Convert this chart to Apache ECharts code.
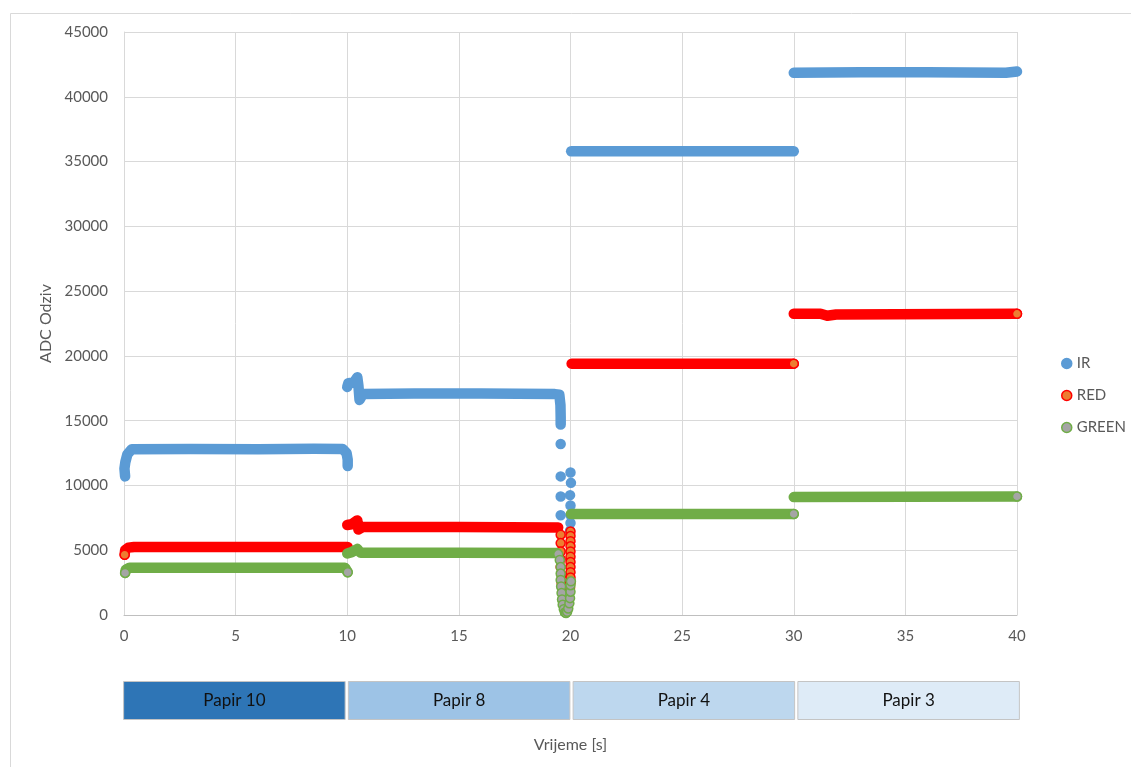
<!DOCTYPE html>
<html><head><meta charset="utf-8">
<script src="https://cdn.jsdelivr.net/npm/echarts@6/dist/echarts.min.js"></script>
<style>html,body{margin:0;padding:0;background:#fff}#c{width:1131px;height:767px}</style>
</head><body><div id="c"></div>
<script>
// ---------- DATA ----------
// Dense, flat runs of each channel (null separates the runs)
const irRuns = [
  [0.05,10700],[0.02,11300],[0.06,11800],[0.15,12400],[0.35,12800],[3,12820],[6,12800],[8.5,12830],[9.8,12810],[9.97,12500],[10.02,12000],[10.02,11500],
  null,
  [10.0,17600],[10.05,17900],[10.3,17950],[10.45,18350],[10.5,17700],[10.55,16600],[10.7,17050],[13,17100],[16,17100],[19.3,17050],[19.5,17000],[19.55,16200],[19.56,15300],[19.56,14700],
  null,
  [20.03,35800],[25,35800],[30,35800],
  null,
  [30,41850],[33,41900],[36,41900],[39.5,41850],[40,41950]
];
const redRuns = [
  [0.03,4650],[0.05,5000],[0.2,5200],[0.45,5250],[5,5250],[9.95,5250],[10.02,5250],
  null,
  [10.0,6950],[10.2,7000],[10.45,7300],[10.5,6600],[10.7,6800],[15,6800],[19.45,6750],
  null,
  [20.05,19400],[30,19400],
  null,
  [30,23250],[31.2,23250],[31.5,23100],[31.9,23200],[40,23250]
];
const greenRuns = [
  [0.05,3250],[0.08,3500],[0.25,3650],[5,3650],[9.9,3650],[10.02,3300],
  null,
  [10.0,4750],[10.2,4850],[10.45,5100],[10.6,4800],[15,4800],[19.38,4780],
  null,
  [20.02,7800],[30,7800],
  null,
  [30,9100],[40,9150]
];
// Individually visible samples (transitions and run ends)
const irPoints = [
  [19.56,13200],[19.56,10700],[19.56,9150],[19.56,7700],
  [20.0,11000],[20.02,10200],[19.98,9250],[20.0,8450],[20.0,7700],[20.0,7100],[19.98,6500]
];
const redPoints = [
  [0.03,4650],
  [19.56,6200],[19.56,5550],[19.56,4900],[19.56,4300],[19.56,3700],[19.6,3100],[19.6,2500],[19.65,1900],
  [20.0,6450],[20.0,6100],[20.0,5700],[20.0,5300],[20.0,4900],[20.0,4500],[20.0,4100],[20.0,3700],[20.0,3300],[20.0,2900],[20.0,2500],[19.98,2100],
  [30,19400],[40,23250]
];
const greenPoints = [
  [0.05,3250],[10.02,3300],
  [19.45,4700],[19.52,4250],[19.56,3700],[19.56,3200],[19.56,2700],[19.58,2200],[19.6,1700],[19.62,1200],[19.65,800],[19.7,450],[19.75,200],[19.8,150],[19.85,250],[19.9,500],[19.95,900],[19.98,1300],[20.0,1800],[20.0,2300],[20.02,2600],
  [30,7800],[40,9150]
];
const seriesNames = ['IR','RED','GREEN'];
const bandLabels = ['Papir 10','Papir 8','Papir 4','Papir 3'];
const bandValues = [1,1,1,1];

// ---------- STYLE ----------
const FONT = 'Lato, "Open Sans", sans-serif';
const fills   = {IR:'#5B9BD5', RED:'#ED7D31', GREEN:'#A5A5A5'};
const strokes = {IR:'#5B9BD5', RED:'#FF0000', GREEN:'#70AD47'};
const bandColors = ['#2E75B6','#9DC3E6','#BDD7EE','#DEEBF7'];

function splitRuns(pts){
  const segs=[[]];
  pts.forEach(p=>{ if(p===null) segs.push([]); else segs[segs.length-1].push(p); });
  return segs.filter(s=>s.length);
}

const runs = {IR:irRuns, RED:redRuns, GREEN:greenRuns};
const pts  = {IR:irPoints, RED:redPoints, GREEN:greenPoints};

const series = [];
seriesNames.forEach((n,i)=>{
  series.push({
    type:'scatter', name:n, data:pts[n], symbolSize:9, z:2+i*2+1,
    itemStyle:{color:fills[n], borderColor:strokes[n], borderWidth:1.5, opacity:1},
    emphasis:{disabled:true}, silent:true
  });
});
seriesNames.forEach((n,i)=>{
  splitRuns(runs[n]).forEach(seg=>{
    series.push({
      type:'line', name:n, data:seg, showSymbol:false, symbol:'none', z:2+i*2,
      lineStyle:{color:strokes[n], width:10.5, cap:'round', join:'round'},
      itemStyle:{color:strokes[n]}, emphasis:{disabled:true}, silent:true
    });
  });
});
series.push({
  type:'bar', name:'papir', xAxisIndex:1, yAxisIndex:1, barCategoryGap:'1%',
  data: bandValues.map((v,i)=>({value:v, itemStyle:{color:bandColors[i]}})),
  itemStyle:{borderColor:'#C4C4C4', borderWidth:1},
  label:{show:true, position:'inside', formatter:'{b}', color:'#111', fontSize:17, fontFamily:FONT},
  silent:true
});

const chart = echarts.init(document.getElementById('c'));
chart.setOption({
  animation:false,
  backgroundColor:'#fff',
  textStyle:{fontFamily:FONT},
  graphic:[{type:'rect', left:8, top:11, shape:{width:1125, height:760},
            style:{fill:'none', stroke:'#D9D9D9', lineWidth:1}, silent:true, z:-10}],
  grid:[
    {left:124, top:32, width:893, height:583},
    {left:122, top:681, width:899, height:39}
  ],
  xAxis:[
    {type:'value', gridIndex:0, min:0, max:40, interval:5,
     axisLine:{show:true, onZero:false, lineStyle:{color:'#BFBFBF', width:1}},
     axisTick:{show:false},
     axisLabel:{color:'#595959', fontSize:15, margin:14, fontFamily:FONT, formatter:v=>String(v)},
     splitLine:{show:true, lineStyle:{color:'#D9D9D9', width:1}},
     name:'Vrijeme [s]', nameLocation:'middle', nameGap:122,
     nameTextStyle:{color:'#595959', fontSize:16, fontFamily:FONT}},
    {type:'category', gridIndex:1, data:bandLabels, show:false}
  ],
  yAxis:[
    {type:'value', gridIndex:0, min:0, max:45000, interval:5000,
     axisLine:{show:true, lineStyle:{color:'#D9D9D9', width:1}},
     axisTick:{show:false},
     axisLabel:{color:'#595959', fontSize:15, margin:16, fontFamily:FONT, formatter:v=>String(v)},
     splitLine:{show:true, lineStyle:{color:'#D9D9D9', width:1}},
     name:'ADC Odziv', nameLocation:'middle', nameGap:68, nameRotate:90,
     nameTextStyle:{color:'#595959', fontSize:16, fontFamily:FONT}},
    {type:'value', gridIndex:1, min:0, max:1, show:false}
  ],
  legend:{
    orient:'vertical', left:1056, top:351, itemWidth:10, itemHeight:10, itemGap:17,
    textStyle:{color:'#595959', fontSize:15, fontFamily:FONT},
    selectedMode:false,
    data: seriesNames.map(n=>({name:n, icon:'circle',
      itemStyle:{color:fills[n], borderColor:strokes[n], borderWidth:1.5}}))
  },
  series: series
});
</script>
</body></html>
